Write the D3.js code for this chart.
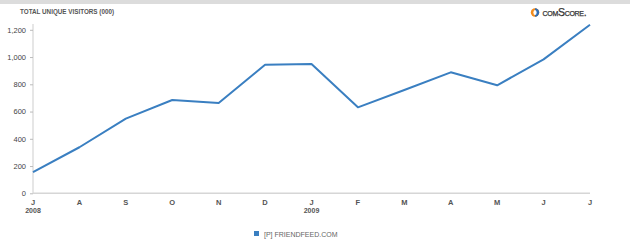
<!DOCTYPE html>
<html>
<head>
<meta charset="utf-8">
<script src="https://cdn.jsdelivr.net/npm/d3@7"></script>
<style>
  body { margin: 0; background: #fff; font-family: "Liberation Sans", Arial, sans-serif; }
  svg { display: block; }
</style>
</head>
<body>
<svg id="chart" width="630" height="241"></svg>
<script>
const months = ["J", "A", "S", "O", "N", "D", "J", "F", "M", "A", "M", "J", "J"];
const years = ["2008", "", "", "", "", "", "2009", "", "", "", "", "", ""];
const visitors = [155, 338, 548, 685, 663, 944, 949, 631, 758, 888, 793, 983, 1237];
const yTicks = [0, 200, 400, 600, 800, 1000, 1200];
const seriesName = "[P] FRIENDFEED.COM";

const width = 630;
const height = 241;
const lineColor = "#3a7fc1";
const font = "'Liberation Sans', Arial, sans-serif";

const svg = d3.select("#chart");

// top band
svg.append("rect")
   .attr("x", 0).attr("y", 0)
   .attr("width", width).attr("height", 4)
   .attr("fill", "#dcdcdc");

svg.append("text")
   .attr("x", 20)
   .attr("y", 14)
   .style("font-family", font)
   .style("font-size", "6.3px")
   .style("font-weight", "bold")
   .attr("fill", "#555")
   .text("TOTAL UNIQUE VISITORS (000)");

// comScore logo
const logo = svg.append("g").attr("transform", "translate(535,12.5)");
logo.append("circle").attr("r", 4.2).attr("fill", "#f28c1e");
logo.append("path")
    .attr("d", d3.arc()({innerRadius: 0, outerRadius: 4.2, startAngle: 0, endAngle: Math.PI}))
    .attr("fill", "#2f6db5");
logo.append("ellipse").attr("rx", 1.6).attr("ry", 2.6).attr("fill", "#fff");
logo.append("text")
    .attr("x", 7.5)
    .attr("y", 3.5)
    .style("font-family", font)
    .style("font-size", "10.5px")
    .style("font-variant", "small-caps")
    .style("letter-spacing", "-0.3px")
    .attr("fill", "#333")
    .attr("stroke", "#333")
    .attr("stroke-width", 0.25)
    .text("comScore.");

const x = d3.scalePoint()
    .domain(d3.range(months.length))
    .range([33, 590]);

const y = d3.scaleLinear()
    .domain([0, 1200])
    .range([193.3, 29.8]);

// y axis
svg.append("line")
   .attr("x1", 33).attr("x2", 33)
   .attr("y1", 24).attr("y2", y(0))
   .attr("stroke", "#d6d6d6")
   .attr("stroke-width", 1.2);

const yAxis = svg.append("g")
    .attr("transform", "translate(33,0)")
    .call(d3.axisLeft(y).tickValues(yTicks).tickSize(3).tickPadding(4).tickFormat(d3.format(",")));
yAxis.select(".domain").remove();
yAxis.selectAll(".tick line").attr("stroke", "#bbb");
yAxis.selectAll(".tick text")
     .attr("fill", "#444")
     .style("font-size", "7.5px")
     .style("font-family", font);

// x axis
svg.append("line")
   .attr("x1", 33).attr("x2", 590)
   .attr("y1", y(0)).attr("y2", y(0))
   .attr("stroke", "#d6d6d6")
   .attr("stroke-width", 1.5);

svg.selectAll(".x-label")
   .data(months)
   .enter()
   .append("text")
   .attr("class", "x-label")
   .attr("x", (d, i) => x(i))
   .attr("y", 205)
   .attr("text-anchor", "middle")
   .attr("fill", "#555")
   .style("font-family", font)
   .style("font-size", "7.5px")
   .style("font-weight", "bold")
   .text(d => d);

svg.selectAll(".x-year")
   .data(years)
   .enter()
   .append("text")
   .attr("class", "x-year")
   .attr("x", (d, i) => x(i))
   .attr("y", 213)
   .attr("text-anchor", "middle")
   .attr("fill", "#555")
   .style("font-family", font)
   .style("font-size", "7px")
   .style("font-weight", "bold")
   .text(d => d);

// line
const line = d3.line()
    .x((d, i) => x(i))
    .y(d => y(d));

svg.append("path")
   .datum(visitors)
   .attr("d", line)
   .attr("fill", "none")
   .attr("stroke", lineColor)
   .attr("stroke-width", 2)
   .attr("stroke-linejoin", "round");

// legend
svg.append("rect")
   .attr("x", 254).attr("y", 231)
   .attr("width", 5).attr("height", 5)
   .attr("fill", lineColor);

svg.append("text")
   .attr("x", 264)
   .attr("y", 236.5)
   .attr("fill", "#666")
   .style("font-family", font)
   .style("font-size", "7px")
   .text(seriesName);
</script>
</body>
</html>
